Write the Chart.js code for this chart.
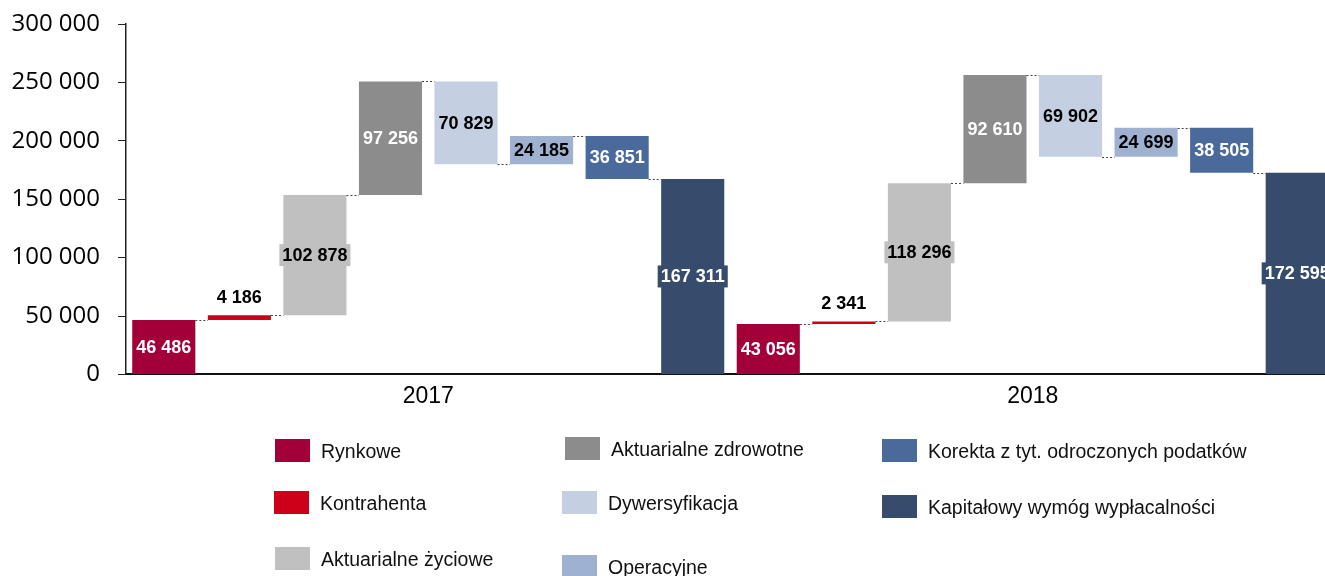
<!DOCTYPE html>
<html>
<head>
<meta charset="utf-8">
<script src="https://cdn.jsdelivr.net/npm/chart.js@4/dist/chart.umd.min.js"></script>
<style>
    html, body { margin: 0; padding: 0; background: #fff; overflow: hidden; }
    #wrap { position: relative; width: 1335px; height: 576px; }
    #legend { position: absolute; left: 0; top: 0; width: 1325px; height: 576px; pointer-events: none; }
    .item { position: absolute; font: 19.5px "Liberation Sans", Arial, sans-serif; color: #111; white-space: nowrap; }
    .item span.box { position: absolute; width: 35px; height: 23px; }
    .item span.txt { position: absolute; left: 46px; top: 50%; transform: translateY(-50%); }
</style>
</head>
<body>
<div id="wrap">
    <canvas id="solvencyChart"></canvas>
    <div id="legend"></div>
</div>
<script>
    // Waterfall: components of the solvency capital requirement
    const years = ['2017', '2018'];
    const components = [
        'Rynkowe',
        'Kontrahenta',
        'Aktuarialne życiowe',
        'Aktuarialne zdrowotne',
        'Dywersyfikacja',
        'Operacyjne',
        'Korekta z tyt. odroczonych podatków',
        'Kapitałowy wymóg wypłacalności'
    ];
    const values2017 = [46486, 4186, 102878, 97256, -70829, 24185, -36851, 167311];
    const values2018 = [43056, 2341, 118296, 92610, -69902, 24699, -38505, 172595];
    const yTicks = [0, 50000, 100000, 150000, 200000, 250000, 300000];

    const colors = ['#A3003A', '#CC0019', '#C0C0C0', '#8C8C8C', '#C4CFE2', '#9FB1D0', '#4A6A9C', '#374C6C'];
    const labelColors = ['#fff', '#000', '#000', '#fff', '#000', '#000', '#fff', '#fff'];

    // legend layout (column-major, 3 rows)
    const legendPos = [
        [275, 439], [274, 491], [275, 547],
        [565, 437], [562, 491], [562, 555],
        [882, 439], [882, 495]
    ];

    const fmt = v => String(Math.abs(v)).replace(/\B(?=(\d{3})+(?!\d))/g, ' ');

    // floating [start, end] ranges per year, last one is the total from 0
    function buildRanges(values) {
        let run = 0;
        return values.map((v, i) => {
            if (i === values.length - 1) return [0, v];
            const r = [run, run + v];
            run += v;
            return r;
        });
    }
    const ranges = [buildRanges(values2017), buildRanges(values2018)];
    const allValues = [values2017, values2018];

    const catLabels = [];
    years.forEach(y => components.forEach(c => catLabels.push(y + ' ' + c)));

    const datasets = components.map((name, ci) => {
        const data = [];
        years.forEach((y, yi) => {
            components.forEach((c, k) => data.push(k === ci ? ranges[yi][k] : null));
        });
        return {
            label: name,
            data: data,
            backgroundColor: colors[ci],
            borderWidth: 0,
            categoryPercentage: 1,
            barPercentage: 0.835
        };
    });

    const waterfallExtras = {
        id: 'waterfallExtras',
        afterDatasetsDraw(chart) {
            const ctx = chart.ctx;
            const yScale = chart.scales.y;
            const n = components.length;

            // dashed connectors
            ctx.save();
            ctx.strokeStyle = '#444';
            ctx.lineWidth = 1;
            ctx.setLineDash([2, 2]);
            years.forEach((y, yi) => {
                for (let k = 0; k < n - 1; k++) {
                    const a = chart.getDatasetMeta(k).data[yi * n + k];
                    const b = chart.getDatasetMeta(k + 1).data[yi * n + k + 1];
                    const level = Math.round(yScale.getPixelForValue(ranges[yi][k][1])) + 0.5;
                    ctx.beginPath();
                    ctx.moveTo(a.x + a.width / 2, level);
                    ctx.lineTo(b.x - b.width / 2, level);
                    ctx.stroke();
                }
            });
            ctx.restore();

            // value labels
            ctx.save();
            ctx.font = 'bold 18px "Liberation Sans", Arial, sans-serif';
            ctx.textAlign = 'center';
            ctx.textBaseline = 'middle';
            years.forEach((y, yi) => {
                for (let k = 0; k < n; k++) {
                    const el = chart.getDatasetMeta(k).data[yi * n + k];
                    const top = Math.min(el.y, el.base);
                    const h = Math.abs(el.base - el.y);
                    const text = fmt(allValues[yi][k]);
                    const w = ctx.measureText(text).width;
                    let cy = top + h / 2;
                    if (h < 20) {
                        cy = top - 18;
                    } else {
                        ctx.fillStyle = colors[k];
                        ctx.fillRect(el.x - w / 2 - 3, cy - 11, w + 6, 22);
                    }
                    ctx.fillStyle = labelColors[k];
                    ctx.fillText(text, el.x, cy + 1);
                }
            });
            ctx.restore();
        }
    };

    const ctx = document.getElementById('solvencyChart').getContext('2d');
    const chart = new Chart(ctx, {
        type: 'bar',
        data: {
            labels: catLabels,
            datasets: datasets
        },
        options: {
            responsive: true,
            maintainAspectRatio: false,
            animation: false,
            layout: {
                padding: { top: 24, right: 0, bottom: 166, left: 0 }
            },
            plugins: {
                legend: { display: false },
                tooltip: { enabled: false }
            },
            scales: {
                x: {
                    stacked: true,
                    offset: true,
                    afterFit(scale) { scale.height = 0; },
                    grid: { display: false },
                    border: { display: true, color: '#111', width: 2 },
                    ticks: { display: false }
                },
                x2: {
                    type: 'category',
                    labels: years,
                    position: 'bottom',
                    offset: true,
                    grid: { display: false },
                    border: { display: false },
                    ticks: {
                        color: '#000',
                        padding: 0,
                        font: { family: '"Liberation Sans", Arial, sans-serif', size: 23 }
                    }
                },
                y: {
                    min: 0,
                    max: 300000,
                    afterFit(scale) {
                        scale.width = 126;
                        scale.paddingTop = 0;
                        scale.paddingBottom = 0;
                    },
                    afterBuildTicks(scale) { scale.ticks = yTicks.map(v => ({ value: v })); },
                    grid: { drawOnChartArea: false, drawTicks: true, tickLength: 8, color: '#222' },
                    border: { display: true, color: '#222', width: 1.5 },
                    ticks: {
                        color: '#000',
                        padding: 18,
                        font: { family: '"Open Sans", sans-serif', size: 24 },
                        callback: v => fmt(v)
                    }
                }
            }
        },
        plugins: [waterfallExtras]
    });

    // legend
    const legend = document.getElementById('legend');
    components.forEach((name, i) => {
        const item = document.createElement('div');
        item.className = 'item';
        item.style.left = legendPos[i][0] + 'px';
        item.style.top = legendPos[i][1] + 'px';
        item.style.height = '23px';
        item.innerHTML = '<span class="box" style="background:' + colors[i] + '"></span><span class="txt">' + name + '</span>';
        legend.appendChild(item);
    });
</script>
</body>
</html>
